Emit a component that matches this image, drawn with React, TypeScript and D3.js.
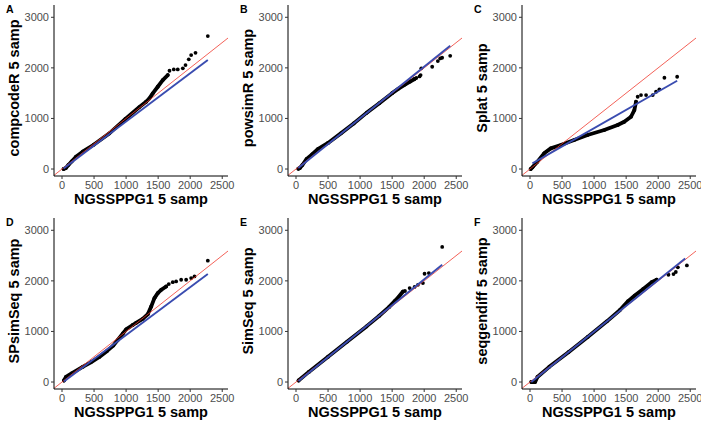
import React from 'react';
import * as d3 from 'd3';

// ---- tick labels / titles ----
const xTicks = [0, 500, 1000, 1500, 2000, 2500];
const yTicks = [0, 1000, 2000, 3000];
const panelLetters = ['A', 'B', 'C', 'D', 'E', 'F'];
const yTitles = ['compcodeR 5 samp', 'powsimR 5 samp', 'Splat 5 samp', 'SPsimSeq 5 samp', 'SimSeq 5 samp', 'seqgendiff 5 samp'];
const xTitle = 'NGSSPPG1 5 samp';

// ---- QQ quantile points: dense body (drawn as continuous band of points) ----
const compcodeRBody: [number, number][] = [[25, 0], [60, 20], [100, 80], [150, 150], [218, 243], [322, 342], [494, 480], [739, 705], [989, 990], [1208, 1225], [1312, 1330], [1364, 1397], [1416, 1496], [1494, 1627], [1572, 1759], [1650, 1858]];
const compcodeRTail: [number, number][] = [[1677, 1943], [1744, 1970], [1806, 1970], [1885, 1990], [1927, 2055], [1978, 2168], [2015, 2253], [2083, 2298], [2275, 2628]];
const compcodeRFit: [number, number][] = [[25, 10], [2275, 2154]];

const powsimRBody: [number, number][] = [[36, 5], [60, 20], [100, 80], [166, 200], [250, 290], [347, 400], [500, 515], [700, 705], [900, 900], [1100, 1110], [1300, 1300], [1500, 1500], [1600, 1590], [1700, 1670], [1780, 1730], [1850, 1780]];
const powsimRTail: [number, number][] = [[1877, 1800], [1928, 1830], [1944, 1858], [1955, 1990], [2125, 2022], [2213, 2134], [2250, 2187], [2280, 2200], [2406, 2239]];
const powsimRFit: [number, number][] = [[36, 20], [2406, 2437]];

const splatBody: [number, number][] = [[10, 0], [38, 33], [116, 145], [220, 310], [324, 408], [480, 474], [689, 573], [898, 672], [1158, 771], [1368, 870], [1471, 935], [1576, 1034], [1628, 1166], [1654, 1330]];
const splatTail: [number, number][] = [[1680, 1429], [1732, 1462], [1811, 1462], [1915, 1462], [1967, 1528], [2019, 1575], [2097, 1805], [2296, 1824]];
const splatFit: [number, number][] = [[38, 113], [2296, 1745]];

const spsimseqBody: [number, number][] = [[30, 30], [62, 100], [150, 170], [322, 298], [450, 390], [583, 497], [700, 610], [800, 720], [869, 830], [950, 960], [1000, 1040], [1103, 1127], [1156, 1170], [1259, 1250], [1338, 1340], [1391, 1491], [1442, 1658], [1494, 1757], [1547, 1823], [1625, 1889]];
const spsimseqTail: [number, number][] = [[1666, 1936], [1728, 1975], [1781, 1988], [1859, 2022], [1937, 2022], [2015, 2055], [2067, 2088], [2275, 2400]];
const spsimseqFit: [number, number][] = [[30, 10], [2275, 2135]];

const simseqBody: [number, number][] = [[40, 30], [200, 200], [500, 500], [800, 800], [1100, 1100], [1300, 1310], [1450, 1480], [1540, 1600], [1600, 1680], [1669, 1789]];
const simseqTail: [number, number][] = [[1700, 1800], [1773, 1857], [1850, 1880], [1902, 1922], [1980, 1956], [2006, 2141], [2073, 2155], [2281, 2672]];
const simseqFit: [number, number][] = [[40, 20], [2281, 2320]];

const seqgendiffBody: [number, number][] = [[20, 0], [80, 0], [116, 100], [300, 300], [600, 590], [900, 890], [1200, 1200], [1400, 1420], [1531, 1600], [1635, 1710], [1767, 1840], [1898, 1975], [1976, 2022]];
const seqgendiffTail: [number, number][] = [[2160, 2121], [2239, 2135], [2275, 2175], [2307, 2267], [2448, 2306]];
const seqgendiffFit: [number, number][] = [[20, 0], [2421, 2440]];

const bodies = [compcodeRBody, powsimRBody, splatBody, spsimseqBody, simseqBody, seqgendiffBody];
const tails = [compcodeRTail, powsimRTail, splatTail, spsimseqTail, simseqTail, seqgendiffTail];
const fits = [compcodeRFit, powsimRFit, splatFit, spsimseqFit, simseqFit, seqgendiffFit];

const xDomain: [number, number] = [-125, 2590];
const yDomain: [number, number] = [-138, 3243];

const FONT = '"Liberation Sans", Arial, sans-serif';

function Panel({ i }: { i: number }) {
  const col = i % 3;
  const row = Math.floor(i / 3);
  const left = 54 + col * 234;
  const top = 5 + row * 213;
  const w = 174;
  const h = 171;
  const x = d3.scaleLinear().domain(xDomain).range([left, left + w]);
  const y = d3.scaleLinear().domain(yDomain).range([top + h, top]);
  const line = d3.line<[number, number]>().x(d => x(d[0])).y(d => y(d[1]));
  const clipId = `clip${i}`;
  const lo = Math.max(xDomain[0], yDomain[0]);
  const hi = Math.min(xDomain[1], yDomain[1]);
  const abline: [number, number][] = [[lo, lo], [hi, hi]];
  const body = bodies[i];
  const tail = tails[i];
  return (
    <g>
      <defs>
        <clipPath id={clipId}>
          <rect x={left} y={top} width={w} height={h} />
        </clipPath>
      </defs>
      <g clipPath={`url(#${clipId})`}>
        <path d={line(body) || ''} fill="none" stroke="#000" strokeWidth={3.8} strokeLinejoin="round" strokeLinecap="round" />
        {body.map((d, k) => <circle key={'b' + k} cx={x(d[0])} cy={y(d[1])} r={1.9} fill="#000" />)}
        {tail.map((d, k) => <circle key={'t' + k} cx={x(d[0])} cy={y(d[1])} r={1.9} fill="#000" />)}
        <path d={line(abline) || ''} stroke="#f03a2e" strokeWidth={0.8} fill="none" />
        <path d={line(fits[i]) || ''} stroke="#3a4cb0" strokeWidth={1.9} fill="none" />
      </g>
      {/* axes */}
      <line x1={left} x2={left} y1={top} y2={top + h} stroke="#000" strokeWidth={1} />
      <line x1={left} x2={left + w} y1={top + h} y2={top + h} stroke="#000" strokeWidth={1} />
      {yTicks.map(t => (
        <g key={'y' + t}>
          <line x1={left - 3} x2={left} y1={y(t)} y2={y(t)} stroke="#333" strokeWidth={1} />
          <text x={left - 5} y={y(t)} dy="0.36em" textAnchor="end" fontSize={11} fill="#4d4d4d" fontFamily={FONT}>{t}</text>
        </g>
      ))}
      {xTicks.map(t => (
        <g key={'x' + t}>
          <line x1={x(t)} x2={x(t)} y1={top + h} y2={top + h + 3} stroke="#333" strokeWidth={1} />
          <text x={x(t)} y={top + h + 13} textAnchor="middle" fontSize={11} fill="#4d4d4d" fontFamily={FONT}>{t}</text>
        </g>
      ))}
      <text x={left + w / 2} y={top + h + 28} textAnchor="middle" fontSize={14.5} fontWeight="bold" fill="#000" fontFamily={FONT}>{xTitle}</text>
      <text transform={`translate(${left - 35},${top + 83}) rotate(-90)`} textAnchor="middle" fontSize={14.5} fontWeight="bold" fill="#000" fontFamily={FONT}>{yTitles[i]}</text>
      <text x={col * 234 + 6} y={top + 8} fontSize={10.5} fontWeight="bold" fill="#000" fontFamily={FONT}>{panelLetters[i]}</text>
    </g>
  );
}

export default function App() {
  return (
    <svg width={701} height={424} style={{ position: 'absolute', left: 0, top: 0, background: '#fff' }}>
      <rect width={701} height={424} fill="#fff" />
      {panelLetters.map((_, i) => <Panel key={i} i={i} />)}
    </svg>
  );
}
